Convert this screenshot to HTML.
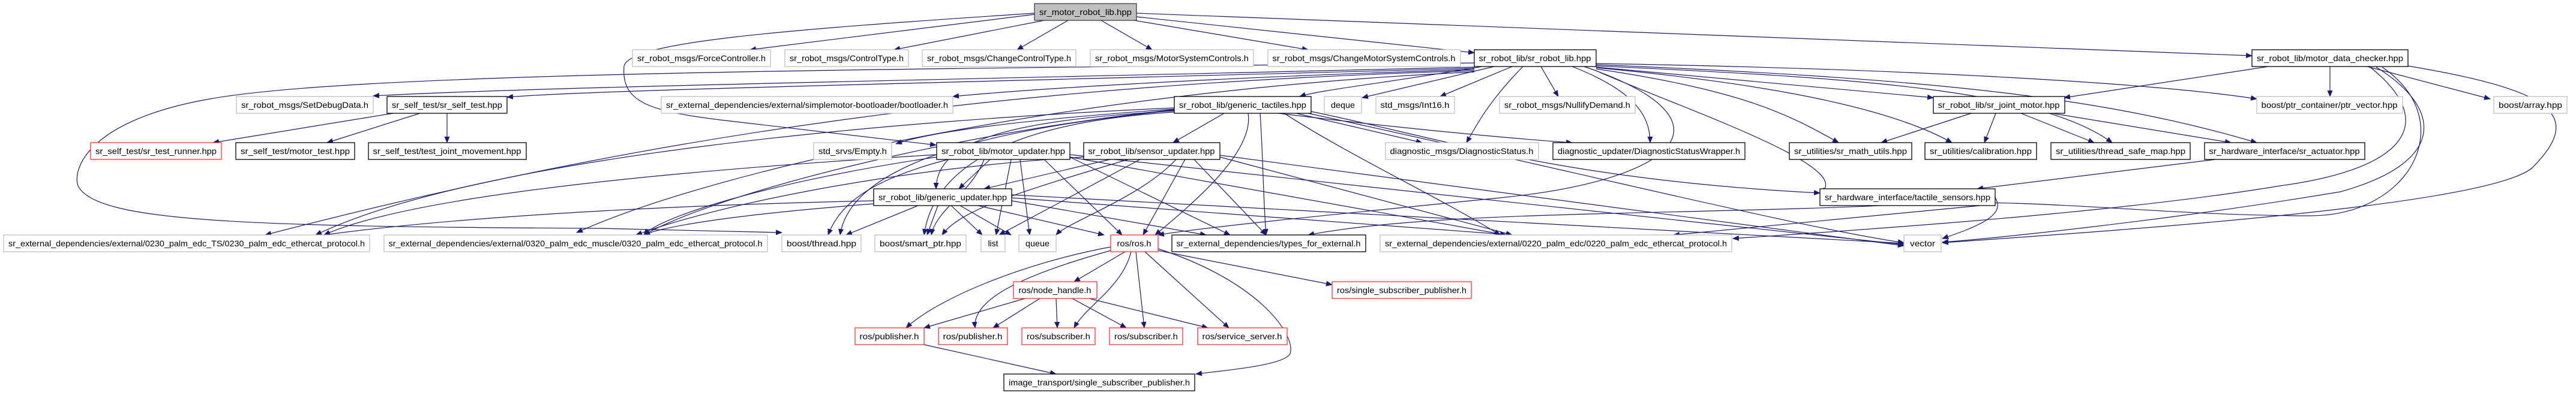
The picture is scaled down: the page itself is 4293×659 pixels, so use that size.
<!DOCTYPE html>
<html><head><meta charset="utf-8"><style>
html,body{margin:0;padding:0;background:#fff;}
svg{display:block;}
text{font-family:"Liberation Sans",sans-serif;font-size:14px;fill:#000;}
.e{fill:none;stroke:#191970;stroke-width:1.2;marker-end:url(#a);}
.g{fill:#fff;stroke:#bfbfbf;stroke-width:1.3;}
.b{fill:#fff;stroke:#000;stroke-width:1.3;}
.r{fill:#fff;stroke:#ff3030;stroke-width:1.3;}
.root{fill:#bfbfbf;stroke:#404040;stroke-width:1.3;}
</style></head><body>
<svg width="4293" height="659" viewBox="0 0 4293 659" xmlns="http://www.w3.org/2000/svg">
<defs><marker id="a" markerWidth="11" markerHeight="9" refX="10" refY="4.5" orient="auto" markerUnits="userSpaceOnUse"><path d="M0,0L11,4.5L0,9z" fill="#191970"/></marker></defs>
<g>
<!-- root -->
<path class="e" d="M1724,24 L1250,83"/>
<path class="e" d="M1740,34 L1490,83"/>
<path class="e" d="M1780,34 L1695,83"/>
<path class="e" d="M1835,34 L1920,83"/>
<path class="e" d="M1890,34 L2180,83"/>
<path class="e" d="M1894,28 L2457,88"/>
<path class="e" d="M1894,22 C2600,50 3300,75 3753,93"/>
<path class="e" d="M1724,22 C1300,50 1050,70 1040,110 C1035,170 1080,185 1200,200 L1560,242"/>
<!-- sr_robot_lib -->
<path class="e" d="M2457,105 C1500,115 600,120 350,165 C150,200 120,280 130,310 C160,370 400,378 1000,381 L1303,388"/>
<path class="e" d="M2457,112 C1500,135 900,145 622,160"/>
<path class="e" d="M2457,114 C1500,140 1000,150 845,162"/>
<path class="e" d="M2457,116 C2000,130 1700,150 1588,161"/>
<path class="e" d="M2470,111 C2300,140 2200,150 2166,161"/>
<path class="e" d="M2490,111 L2270,163"/>
<path class="e" d="M2520,111 L2400,161"/>
<path class="e" d="M2568,111 L2597,161"/>
<path class="e" d="M2538,111 C2480,170 2460,210 2444,238"/>
<path class="e" d="M2620,111 C2720,150 2750,190 2750,238"/>
<path class="e" d="M2660,115 C2900,150 2980,190 3064,238"/>
<path class="e" d="M2660,113 C2950,140 3150,180 3253,238"/>
<path class="e" d="M2660,110 C3100,130 3400,150 3520,238"/>
<path class="e" d="M2660,108 C3200,130 3500,160 3761,238"/>
<path class="e" d="M2660,112 L3222,163"/>
<path class="e" d="M2660,106 C3200,115 3600,140 3761,165"/>
<path class="e" d="M2457,118 C1700,140 1100,220 442,392"/>
<path class="e" d="M2457,120 C1800,150 1200,280 961,388"/>
<path class="e" d="M2640,111 C2900,200 2800,300 2500,330 C2200,360 2000,380 1930,392"/>
<path class="e" d="M2660,118 C2800,180 3100,280 3033,322"/>
<!-- motor_data_checker -->
<path class="e" d="M3883,111 L3883,161"/>
<path class="e" d="M3945,111 L4150,165"/>
<path class="e" d="M3780,111 L3440,163"/>
<path class="e" d="M4013,110 C4250,150 4310,190 4220,280 C4150,340 3600,380 3237,405"/>
<path class="e" d="M3950,112 C4060,200 4020,280 3800,310 C3500,360 3000,390 2888,398"/>
<path class="e" d="M3960,112 C4070,180 4080,270 3900,320 C3600,370 3300,400 3237,404"/>
<path class="e" d="M3970,112 C4100,200 4020,360 3850,360 C3600,360 3400,330 3200,340 C2800,360 2400,350 2180,392"/>
<!-- generic_tactiles -->
<path class="e" d="M2040,189 L1955,238"/>
<path class="e" d="M1957,182 C1700,200 1550,220 1493,240"/>
<path class="e" d="M1957,185 C1700,200 1560,230 1560,315"/>
<path class="e" d="M2160,189 L2370,238"/>
<path class="e" d="M2130,189 C2300,210 2500,230 2620,238"/>
<path class="e" d="M2080,189 C2090,250 2000,330 1925,392"/>
<path class="e" d="M2100,189 C2105,260 2105,330 2110,392"/>
<path class="e" d="M2140,189 C2250,260 2400,330 2500,392"/>
<path class="e" d="M2180,189 C2600,280 3000,380 3173,405"/>
<path class="e" d="M2185,186 C2400,230 2600,300 3033,322"/>
<path class="e" d="M1957,180 C1500,200 800,260 526,392"/>
<path class="e" d="M1957,183 C1600,220 1200,320 1073,392"/>
<path class="e" d="M1957,187 C1750,200 1560,250 1540,392"/>
<path class="e" d="M1957,184 C1700,210 1420,260 1400,392"/>
<!-- motor_updater -->
<path class="e" d="M1650,266 L1598,315"/>
<path class="e" d="M1640,266 C1620,320 1560,350 1552,392"/>
<path class="e" d="M1580,266 C1450,300 1400,340 1380,392"/>
<path class="e" d="M1685,266 L1660,392"/>
<path class="e" d="M1700,266 L1716,392"/>
<path class="e" d="M1740,266 L1870,392"/>
<path class="e" d="M1783,262 L2050,392"/>
<path class="e" d="M1783,262 L2510,392"/>
<path class="e" d="M1783,258 L3173,408"/>
<path class="e" d="M1561,258 C1200,280 700,320 540,392"/>
<path class="e" d="M1561,262 C1300,300 1100,360 1073,392"/>
<!-- sensor_updater -->
<path class="e" d="M1850,266 L1640,315"/>
<path class="e" d="M1880,266 C1700,320 1600,350 1570,392"/>
<path class="e" d="M1900,266 L1665,392"/>
<path class="e" d="M1960,266 C1900,330 1780,370 1760,392"/>
<path class="e" d="M1975,266 L1905,392"/>
<path class="e" d="M1990,266 L2110,392"/>
<path class="e" d="M2033,262 L2520,392"/>
<path class="e" d="M2033,259 L3173,410"/>
<path class="e" d="M1806,262 C1500,280 1200,340 1060,392"/>
<!-- generic_updater -->
<path class="e" d="M1456,335 C1000,345 700,370 540,392"/>
<path class="e" d="M1456,340 C1200,360 1100,380 1073,392"/>
<path class="e" d="M1530,343 L1410,392"/>
<path class="e" d="M1563,343 L1545,392"/>
<path class="e" d="M1585,343 L1637,392"/>
<path class="e" d="M1600,343 L1685,392"/>
<path class="e" d="M1630,343 L1840,392"/>
<path class="e" d="M1686,335 L2010,392"/>
<path class="e" d="M1686,330 L2520,392"/>
<path class="e" d="M1686,325 L3173,406"/>
<!-- sr_self_test -->
<path class="e" d="M655,189 L355,238"/>
<path class="e" d="M700,189 L545,238"/>
<path class="e" d="M745,189 L745,238"/>
<!-- sr_joint_motor -->
<path class="e" d="M3285,189 L3135,238"/>
<path class="e" d="M3326,189 L3307,238"/>
<path class="e" d="M3368,189 L3490,238"/>
<path class="e" d="M3420,189 L3718,238"/>
<path class="e" d="M3692,266 L3295,315"/>
<path class="e" d="M3325,330 C3345,360 3290,380 3237,398"/>
<path class="e" d="M3300,343 L2789,392"/>
<!-- ros.h -->
<path class="e" d="M1875,420 L1790,470"/>
<path class="e" d="M1851,412 C1700,440 1560,500 1510,547"/>
<path class="e" d="M1851,418 C1700,460 1620,500 1625,547"/>
<path class="e" d="M1885,420 C1870,480 1810,510 1790,547"/>
<path class="e" d="M1893,420 L1907,547"/>
<path class="e" d="M1908,420 L2048,547"/>
<path class="e" d="M1930,415 C2100,470 2160,560 2150,590 C2140,610 2040,618 1993,624"/>
<path class="e" d="M1930,418 L2220,475"/>
<!-- node_handle -->
<path class="e" d="M1708,498 L1540,547"/>
<path class="e" d="M1733,498 L1655,547"/>
<path class="e" d="M1760,498 L1762,547"/>
<path class="e" d="M1787,498 L1877,547"/>
<path class="e" d="M1815,498 L2013,547"/>
<path class="e" d="M1540,575 L1760,624"/>
</g>
<g>
<rect class="root" x="1724" y="6" width="170" height="28"/><text x="1809" y="25" text-anchor="middle" textLength="154" lengthAdjust="spacingAndGlyphs">sr_motor_robot_lib.hpp</text>
<rect class="g" x="1054" y="83" width="230" height="28"/><text x="1169" y="102" text-anchor="middle" textLength="214" lengthAdjust="spacingAndGlyphs">sr_robot_msgs/ForceController.h</text>
<rect class="g" x="1308" y="83" width="206" height="28"/><text x="1411" y="102" text-anchor="middle" textLength="190" lengthAdjust="spacingAndGlyphs">sr_robot_msgs/ControlType.h</text>
<rect class="g" x="1537" y="83" width="256" height="28"/><text x="1665" y="102" text-anchor="middle" textLength="240" lengthAdjust="spacingAndGlyphs">sr_robot_msgs/ChangeControlType.h</text>
<rect class="g" x="1817" y="83" width="272" height="28"/><text x="1953" y="102" text-anchor="middle" textLength="256" lengthAdjust="spacingAndGlyphs">sr_robot_msgs/MotorSystemControls.h</text>
<rect class="g" x="2113" y="83" width="321" height="28"/><text x="2273" y="102" text-anchor="middle" textLength="305" lengthAdjust="spacingAndGlyphs">sr_robot_msgs/ChangeMotorSystemControls.h</text>
<rect class="b" x="2457" y="83" width="203" height="28"/><text x="2558" y="102" text-anchor="middle" textLength="187" lengthAdjust="spacingAndGlyphs">sr_robot_lib/sr_robot_lib.hpp</text>
<rect class="b" x="3753" y="83" width="260" height="28"/><text x="3883" y="102" text-anchor="middle" textLength="244" lengthAdjust="spacingAndGlyphs">sr_robot_lib/motor_data_checker.hpp</text>
<rect class="g" x="394" y="161" width="228" height="28"/><text x="508" y="180" text-anchor="middle" textLength="212" lengthAdjust="spacingAndGlyphs">sr_robot_msgs/SetDebugData.h</text>
<rect class="b" x="645" y="161" width="200" height="28"/><text x="745" y="180" text-anchor="middle" textLength="184" lengthAdjust="spacingAndGlyphs">sr_self_test/sr_self_test.hpp</text>
<rect class="g" x="1102" y="161" width="486" height="28"/><text x="1345" y="180" text-anchor="middle" textLength="470" lengthAdjust="spacingAndGlyphs">sr_external_dependencies/external/simplemotor-bootloader/bootloader.h</text>
<rect class="b" x="1957" y="161" width="228" height="28"/><text x="2071" y="180" text-anchor="middle" textLength="212" lengthAdjust="spacingAndGlyphs">sr_robot_lib/generic_tactiles.hpp</text>
<rect class="g" x="2207" y="161" width="62" height="28"/><text x="2238" y="180" text-anchor="middle" textLength="40" lengthAdjust="spacingAndGlyphs">deque</text>
<rect class="g" x="2293" y="161" width="131" height="28"/><text x="2358" y="180" text-anchor="middle" textLength="115" lengthAdjust="spacingAndGlyphs">std_msgs/Int16.h</text>
<rect class="g" x="2499" y="161" width="226" height="28"/><text x="2612" y="180" text-anchor="middle" textLength="210" lengthAdjust="spacingAndGlyphs">sr_robot_msgs/NullifyDemand.h</text>
<rect class="b" x="3222" y="161" width="219" height="28"/><text x="3331" y="180" text-anchor="middle" textLength="203" lengthAdjust="spacingAndGlyphs">sr_robot_lib/sr_joint_motor.hpp</text>
<rect class="g" x="3761" y="161" width="243" height="28"/><text x="3882" y="180" text-anchor="middle" textLength="227" lengthAdjust="spacingAndGlyphs">boost/ptr_container/ptr_vector.hpp</text>
<rect class="g" x="4156" y="161" width="122" height="28"/><text x="4217" y="180" text-anchor="middle" textLength="106" lengthAdjust="spacingAndGlyphs">boost/array.hpp</text>
<rect class="r" x="151" y="238" width="218" height="28"/><text x="260" y="257" text-anchor="middle" textLength="202" lengthAdjust="spacingAndGlyphs">sr_self_test/sr_test_runner.hpp</text>
<rect class="b" x="393" y="238" width="198" height="28"/><text x="492" y="257" text-anchor="middle" textLength="182" lengthAdjust="spacingAndGlyphs">sr_self_test/motor_test.hpp</text>
<rect class="b" x="614" y="238" width="263" height="28"/><text x="745" y="257" text-anchor="middle" textLength="247" lengthAdjust="spacingAndGlyphs">sr_self_test/test_joint_movement.hpp</text>
<rect class="g" x="1356" y="238" width="130" height="28"/><text x="1421" y="257" text-anchor="middle" textLength="114" lengthAdjust="spacingAndGlyphs">std_srvs/Empty.h</text>
<rect class="b" x="1561" y="238" width="222" height="28"/><text x="1672" y="257" text-anchor="middle" textLength="206" lengthAdjust="spacingAndGlyphs">sr_robot_lib/motor_updater.hpp</text>
<rect class="b" x="1806" y="238" width="227" height="28"/><text x="1919" y="257" text-anchor="middle" textLength="211" lengthAdjust="spacingAndGlyphs">sr_robot_lib/sensor_updater.hpp</text>
<rect class="g" x="2309" y="238" width="255" height="28"/><text x="2436" y="257" text-anchor="middle" textLength="239" lengthAdjust="spacingAndGlyphs">diagnostic_msgs/DiagnosticStatus.h</text>
<rect class="b" x="2588" y="238" width="320" height="28"/><text x="2748" y="257" text-anchor="middle" textLength="304" lengthAdjust="spacingAndGlyphs">diagnostic_updater/DiagnosticStatusWrapper.h</text>
<rect class="b" x="2982" y="238" width="204" height="28"/><text x="3084" y="257" text-anchor="middle" textLength="188" lengthAdjust="spacingAndGlyphs">sr_utilities/sr_math_utils.hpp</text>
<rect class="b" x="3208" y="238" width="186" height="28"/><text x="3301" y="257" text-anchor="middle" textLength="170" lengthAdjust="spacingAndGlyphs">sr_utilities/calibration.hpp</text>
<rect class="b" x="3418" y="238" width="232" height="28"/><text x="3534" y="257" text-anchor="middle" textLength="216" lengthAdjust="spacingAndGlyphs">sr_utilities/thread_safe_map.hpp</text>
<rect class="b" x="3674" y="238" width="267" height="28"/><text x="3807" y="257" text-anchor="middle" textLength="251" lengthAdjust="spacingAndGlyphs">sr_hardware_interface/sr_actuator.hpp</text>
<rect class="b" x="1456" y="315" width="230" height="28"/><text x="1571" y="334" text-anchor="middle" textLength="214" lengthAdjust="spacingAndGlyphs">sr_robot_lib/generic_updater.hpp</text>
<rect class="b" x="3033" y="315" width="292" height="28"/><text x="3179" y="334" text-anchor="middle" textLength="276" lengthAdjust="spacingAndGlyphs">sr_hardware_interface/tactile_sensors.hpp</text>
<rect class="g" x="6" y="392" width="610" height="28"/><text x="311" y="411" text-anchor="middle" textLength="594" lengthAdjust="spacingAndGlyphs">sr_external_dependencies/external/0230_palm_edc_TS/0230_palm_edc_ethercat_protocol.h</text>
<rect class="g" x="640" y="392" width="639" height="28"/><text x="959" y="411" text-anchor="middle" textLength="623" lengthAdjust="spacingAndGlyphs">sr_external_dependencies/external/0320_palm_edc_muscle/0320_palm_edc_ethercat_protocol.h</text>
<rect class="g" x="1303" y="392" width="132" height="28"/><text x="1369" y="411" text-anchor="middle" textLength="116" lengthAdjust="spacingAndGlyphs">boost/thread.hpp</text>
<rect class="g" x="1458" y="392" width="152" height="28"/><text x="1534" y="411" text-anchor="middle" textLength="136" lengthAdjust="spacingAndGlyphs">boost/smart_ptr.hpp</text>
<rect class="g" x="1635" y="392" width="40" height="28"/><text x="1655" y="411" text-anchor="middle">list</text>
<rect class="g" x="1698" y="392" width="62" height="28"/><text x="1729" y="411" text-anchor="middle" textLength="40" lengthAdjust="spacingAndGlyphs">queue</text>
<rect class="r" x="1851" y="392" width="79" height="28"/><text x="1890" y="411" text-anchor="middle" textLength="57" lengthAdjust="spacingAndGlyphs">ros/ros.h</text>
<rect class="b" x="1953" y="392" width="323" height="28"/><text x="2114" y="411" text-anchor="middle" textLength="307" lengthAdjust="spacingAndGlyphs">sr_external_dependencies/types_for_external.h</text>
<rect class="g" x="2300" y="392" width="586" height="28"/><text x="2593" y="411" text-anchor="middle" textLength="570" lengthAdjust="spacingAndGlyphs">sr_external_dependencies/external/0220_palm_edc/0220_palm_edc_ethercat_protocol.h</text>
<rect class="g" x="3173" y="392" width="62" height="28"/><text x="3204" y="411" text-anchor="middle" textLength="42" lengthAdjust="spacingAndGlyphs">vector</text>
<rect class="r" x="1689" y="470" width="139" height="28"/><text x="1758" y="489" text-anchor="middle" textLength="121" lengthAdjust="spacingAndGlyphs">ros/node_handle.h</text>
<rect class="r" x="2220" y="470" width="232" height="28"/><text x="2336" y="489" text-anchor="middle" textLength="216" lengthAdjust="spacingAndGlyphs">ros/single_subscriber_publisher.h</text>
<rect class="r" x="1425" y="547" width="115" height="28"/><text x="1482" y="566" text-anchor="middle" textLength="99" lengthAdjust="spacingAndGlyphs">ros/publisher.h</text>
<rect class="r" x="1564" y="547" width="115" height="28"/><text x="1621" y="566" text-anchor="middle" textLength="99" lengthAdjust="spacingAndGlyphs">ros/publisher.h</text>
<rect class="r" x="1703" y="547" width="122" height="28"/><text x="1764" y="566" text-anchor="middle" textLength="106" lengthAdjust="spacingAndGlyphs">ros/subscriber.h</text>
<rect class="r" x="1849" y="547" width="122" height="28"/><text x="1910" y="566" text-anchor="middle" textLength="106" lengthAdjust="spacingAndGlyphs">ros/subscriber.h</text>
<rect class="r" x="1996" y="547" width="149" height="28"/><text x="2070" y="566" text-anchor="middle" textLength="133" lengthAdjust="spacingAndGlyphs">ros/service_server.h</text>
<rect class="b" x="1673" y="624" width="318" height="28"/><text x="1832" y="643" text-anchor="middle" textLength="302" lengthAdjust="spacingAndGlyphs">image_transport/single_subscriber_publisher.h</text>
</g>
</svg>
</body></html>
